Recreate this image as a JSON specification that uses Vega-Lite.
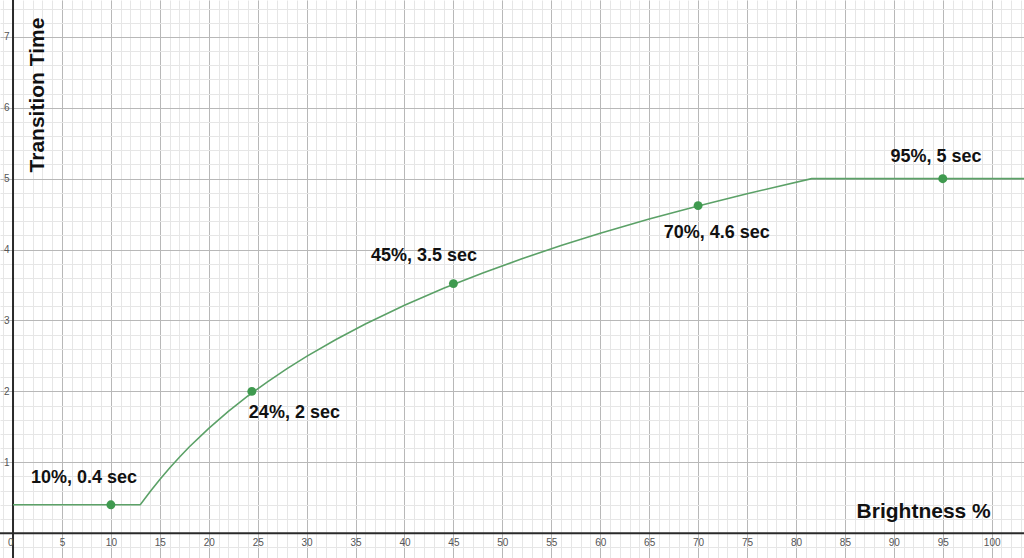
{
  "$schema": "https://vega.github.io/schema/vega-lite/v6.json",
  "width": 1024,
  "height": 558,
  "autosize": "none",
  "padding": 0,
  "background": "white",
  "config": {"view": {"stroke": null}, "font": "Liberation Sans"},
  "datasets": {
    "curve": [
      {"x": 0, "y": 0.4}, {"x": 13, "y": 0.4}, {"x": 14, "y": 0.585}, {"x": 15, "y": 0.758},
      {"x": 16, "y": 0.92}, {"x": 17, "y": 1.071}, {"x": 18, "y": 1.215}, {"x": 20, "y": 1.478},
      {"x": 22, "y": 1.717}, {"x": 24, "y": 1.935}, {"x": 26, "y": 2.135}, {"x": 28, "y": 2.321},
      {"x": 30, "y": 2.494}, {"x": 33, "y": 2.732}, {"x": 36, "y": 2.95}, {"x": 40, "y": 3.214},
      {"x": 44, "y": 3.453}, {"x": 48, "y": 3.67}, {"x": 52, "y": 3.871}, {"x": 56, "y": 4.057},
      {"x": 60, "y": 4.229}, {"x": 65, "y": 4.43}, {"x": 70, "y": 4.615}, {"x": 75, "y": 4.788},
      {"x": 81.6, "y": 5.0}, {"x": 104, "y": 5.0}
    ],
    "points": [
      {"x": 10, "y": 0.4, "label": "10%, 0.4 sec", "lx": 7.25, "ly": 0.78},
      {"x": 24.4, "y": 2.0, "label": "24%, 2 sec", "lx": 28.75, "ly": 1.69},
      {"x": 45, "y": 3.52, "label": "45%, 3.5 sec", "lx": 42.0, "ly": 3.91},
      {"x": 70, "y": 4.62, "label": "70%, 4.6 sec", "lx": 71.9, "ly": 4.23},
      {"x": 95, "y": 5.0, "label": "95%, 5 sec", "lx": 94.3, "ly": 5.3}
    ],
    "axislines": [
      {"axis": "x", "ax": -1.33, "ay": 0},
      {"axis": "x", "ax": 103.3, "ay": 0},
      {"axis": "y", "ax": 0, "ay": -0.35},
      {"axis": "y", "ax": 0, "ay": 7.52}
    ],
    "titles": [
      {"text": "Brightness %", "tx": 93.05, "ty": 0.3, "angle": 0},
      {"text": "Transition Time", "tx": 2.55, "ty": 6.18, "angle": 270}
    ]
  },
  "resolve": {"axis": {"x": "independent", "y": "independent"}},
  "layer": [
    {
      "data": {"name": "curve"},
      "mark": {"type": "line", "opacity": 0},
      "encoding": {
        "x": {"field": "x", "type": "quantitative",
          "scale": {"domain": [-1.33, 103.3], "nice": false, "zero": false},
          "axis": {"orient": "bottom", "zindex": 0, "title": null, "labels": false, "ticks": false, "domain": false, "grid": true,
            "gridColor": "#e6e6e6", "gridWidth": 1,
            "values": [-1,0,1,2,3,4,5,6,7,8,9,10,11,12,13,14,15,16,17,18,19,20,21,22,23,24,25,26,27,28,29,30,31,32,33,34,35,36,37,38,39,40,41,42,43,44,45,46,47,48,49,50,51,52,53,54,55,56,57,58,59,60,61,62,63,64,65,66,67,68,69,70,71,72,73,74,75,76,77,78,79,80,81,82,83,84,85,86,87,88,89,90,91,92,93,94,95,96,97,98,99,100,101,102,103]}},
        "y": {"field": "y", "type": "quantitative",
          "scale": {"domain": [-0.35, 7.52], "nice": false, "zero": false},
          "axis": {"orient": "left", "zindex": 0, "title": null, "labels": false, "ticks": false, "domain": false, "grid": true,
            "gridColor": "#e6e6e6", "gridWidth": 1,
            "values": [-0.2,0,0.2,0.4,0.6,0.8,1,1.2,1.4,1.6,1.8,2,2.2,2.4,2.6,2.8,3,3.2,3.4,3.6,3.8,4,4.2,4.4,4.6,4.8,5,5.2,5.4,5.6,5.8,6,6.2,6.4,6.6,6.8,7,7.2,7.4]}}
      }
    },
    {
      "data": {"name": "curve"},
      "mark": {"type": "line", "opacity": 0},
      "encoding": {
        "x": {"field": "x", "type": "quantitative",
          "axis": {"orient": "bottom", "zindex": 0, "title": null, "labels": false, "ticks": false, "domain": false, "grid": true,
            "gridColor": "#b8b8b8", "gridWidth": 1,
            "values": [0,5,10,15,20,25,30,35,40,45,50,55,60,65,70,75,80,85,90,95,100]}},
        "y": {"field": "y", "type": "quantitative",
          "axis": {"orient": "left", "zindex": 0, "title": null, "labels": false, "ticks": false, "domain": false, "grid": true,
            "gridColor": "#b8b8b8", "gridWidth": 1,
            "values": [0,1,2,3,4,5,6,7]}}
      }
    },
    {
      "data": {"name": "axislines"},
      "mark": {"type": "line", "color": "#2a2a2a", "strokeWidth": 2, "clip": true},
      "encoding": {
        "x": {"field": "ax", "type": "quantitative", "axis": null},
        "y": {"field": "ay", "type": "quantitative", "axis": null},
        "detail": {"field": "axis"}
      }
    },
    {
      "data": {"name": "curve"},
      "mark": {"type": "line", "color": "#5ba167", "strokeWidth": 1.6},
      "encoding": {
        "x": {"field": "x", "type": "quantitative",
          "axis": {"orient": "bottom", "zindex": 2, "title": null, "offset": -24.8, "grid": false, "ticks": false,
            "domain": false,
            "labelPadding": 4, "labelFontSize": 10, "labelColor": "#555555", "labelFont": "Liberation Sans",
            "labelAlign": {"condition": {"test": "datum.value === 0", "value": "right"}, "value": "center"},
            "labelFlush": false, "labelOverlap": false,
            "values": [0,5,10,15,20,25,30,35,40,45,50,55,60,65,70,75,80,85,90,95,100]}},
        "y": {"field": "y", "type": "quantitative",
          "axis": {"orient": "left", "zindex": 2, "title": null, "offset": -13, "grid": false, "ticks": false,
            "domain": false,
            "labelPadding": 4, "labelFontSize": 10, "labelColor": "#555555", "labelFont": "Liberation Sans",
            "labelFlush": false, "labelOverlap": false,
            "values": [1,2,3,4,5,6,7]}}
      }
    },
    {
      "data": {"name": "points"},
      "mark": {"type": "circle", "color": "#3f9a4f", "opacity": 1, "size": 80},
      "encoding": {
        "x": {"field": "x", "type": "quantitative", "axis": null},
        "y": {"field": "y", "type": "quantitative", "axis": null}
      }
    },
    {
      "data": {"name": "points"},
      "mark": {"type": "text", "font": "Liberation Sans", "fontWeight": "bold", "fontSize": 18, "color": "#111111", "align": "center", "baseline": "middle"},
      "encoding": {
        "x": {"field": "lx", "type": "quantitative", "axis": null},
        "y": {"field": "ly", "type": "quantitative", "axis": null},
        "text": {"field": "label"}
      }
    },
    {
      "data": {"name": "titles"},
      "mark": {"type": "text", "font": "Liberation Sans", "fontWeight": "bold", "fontSize": 21, "color": "#111111", "align": "center", "baseline": "middle"},
      "encoding": {
        "x": {"field": "tx", "type": "quantitative", "axis": null},
        "y": {"field": "ty", "type": "quantitative", "axis": null},
        "angle": {"field": "angle", "type": "quantitative", "scale": null},
        "text": {"field": "text"}
      }
    }
  ]
}
